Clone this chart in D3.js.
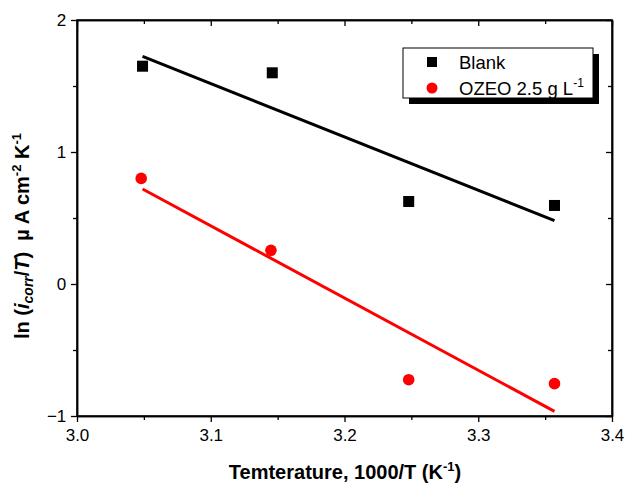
<!DOCTYPE html>
<html><head><meta charset="utf-8">
<script src="https://cdn.jsdelivr.net/npm/d3@7"></script>
<style>body{margin:0;background:#fff}text{font-family:Arial,"Liberation Sans",sans-serif}</style>
</head><body><svg id="c" width="628" height="484"></svg>
<script>
const blankX = [3.049, 3.146, 3.248, 3.357];
const blankY = [1.65, 1.60, 0.625, 0.595];
const ozeoX = [3.048, 3.145, 3.248, 3.357];
const ozeoY = [0.80, 0.255, -0.725, -0.755];
const blankFitX = [3.049, 3.357];
const blankFitY = [1.725, 0.48];
const ozeoFitX = [3.049, 3.357];
const ozeoFitY = [0.72, -0.965];
const xTicks = [3.0, 3.1, 3.2, 3.3, 3.4];
const yTicks = [-1, 0, 1, 2];
const legendLabels = ["Blank", "OZEO 2.5 g L"];

const svg = d3.select("#c");
const L = 77, R = 612, T = 20, B = 416;
const x = d3.scaleLinear().domain([3.0, 3.4]).range([L, R]);
const y = d3.scaleLinear().domain([-1, 2]).range([B, T]);

const g = svg.append("g");
const minorX = d3.range(3.05, 3.4, 0.1);
const minorY = [-0.5, 0.5, 1.5];
// bottom axis
const bx = g.append("g").attr("transform", `translate(0,${B})`)
  .call(d3.axisBottom(x).tickValues(xTicks).tickFormat(d3.format(".1f")).tickSize(6).tickSizeOuter(0));
bx.selectAll("text").attr("font-size", 17).attr("dy", "0.95em").attr("fill", "#000");
g.append("g").attr("transform", `translate(0,${B})`)
  .call(d3.axisBottom(x).tickValues(minorX).tickFormat("").tickSize(4).tickSizeOuter(0));
// top axis
g.append("g").attr("transform", `translate(0,${T})`)
  .call(d3.axisBottom(x).tickValues(xTicks).tickFormat("").tickSize(6).tickSizeOuter(0));
g.append("g").attr("transform", `translate(0,${T})`)
  .call(d3.axisBottom(x).tickValues(minorX).tickFormat("").tickSize(4).tickSizeOuter(0));
// left axis
const ly = g.append("g").attr("transform", `translate(${L},0)`)
  .call(d3.axisLeft(y).tickValues(yTicks).tickFormat(d3.format("d")).tickSize(6).tickSizeOuter(0));
ly.selectAll("text").attr("font-size", 17).attr("fill", "#000").attr("dx", "-0.1em");
g.append("g").attr("transform", `translate(${L},0)`)
  .call(d3.axisLeft(y).tickValues(minorY).tickFormat("").tickSize(4).tickSizeOuter(0));
// right axis
g.append("g").attr("transform", `translate(${R},0)`)
  .call(d3.axisLeft(y).tickValues(yTicks).tickFormat("").tickSize(6).tickSizeOuter(0));
g.append("g").attr("transform", `translate(${R},0)`)
  .call(d3.axisLeft(y).tickValues(minorY).tickFormat("").tickSize(4).tickSizeOuter(0));
g.selectAll(".domain").attr("stroke", "#000").attr("stroke-width", 1.5);
g.selectAll(".tick line").attr("stroke", "#000").attr("stroke-width", 1.3);
svg.append("rect").attr("x", L).attr("y", T).attr("width", R - L).attr("height", B - T)
  .attr("fill", "none").attr("stroke", "#000").attr("stroke-width", 1.5);

// fits
const line = d3.line().x(d => x(d[0])).y(d => y(d[1]));
svg.append("path").datum(d3.zip(blankFitX, blankFitY)).attr("d", line)
  .attr("stroke", "#000").attr("stroke-width", 3).attr("fill", "none");
svg.append("path").datum(d3.zip(ozeoFitX, ozeoFitY)).attr("d", line)
  .attr("stroke", "#ff0000").attr("stroke-width", 3).attr("fill", "none");

// points
const sq = 11;
svg.selectAll(".sq").data(d3.zip(blankX, blankY)).enter().append("rect")
  .attr("x", d => x(d[0]) - sq / 2).attr("y", d => y(d[1]) - sq / 2)
  .attr("width", sq).attr("height", sq).attr("fill", "#000");
svg.selectAll(".ci").data(d3.zip(ozeoX, ozeoY)).enter().append("circle")
  .attr("cx", d => x(d[0])).attr("cy", d => y(d[1])).attr("r", 5.8).attr("fill", "#ff0000");

// legend
const lg = svg.append("g");
lg.append("rect").attr("x", 409).attr("y", 54).attr("width", 190).attr("height", 50).attr("fill", "#000");
lg.append("rect").attr("x", 403).attr("y", 48).attr("width", 190).attr("height", 50)
  .attr("fill", "#fff").attr("stroke", "#000").attr("stroke-width", 1);
lg.append("rect").attr("x", 427).attr("y", 57).attr("width", 10).attr("height", 10).attr("fill", "#000");
lg.append("circle").attr("cx", 432).attr("cy", 88).attr("r", 5.5).attr("fill", "#ff0000");
lg.append("text").attr("x", 459).attr("y", 69).attr("font-size", 18.5).text(legendLabels[0]);
const t2 = lg.append("text").attr("x", 459).attr("y", 95).attr("font-size", 18.5);
t2.append("tspan").text(legendLabels[1]);
t2.append("tspan").attr("font-size", 12).attr("dy", -8).text("-1");

// x label
const xl = svg.append("text").attr("x", 345).attr("y", 479).attr("text-anchor", "middle")
  .attr("font-size", 20).attr("font-weight", "bold");
xl.append("tspan").text("Temterature, 1000/T (K");
xl.append("tspan").attr("font-size", 13).attr("dy", -8).text("-1");
xl.append("tspan").attr("dy", 8).text(")");

// y label
const yl = svg.append("text").attr("transform", "translate(29,236) rotate(-90)")
  .attr("text-anchor", "middle").attr("font-size", 20).attr("font-weight", "bold")
  .attr("xml:space", "preserve").style("white-space", "pre");
yl.append("tspan").text("ln (");
yl.append("tspan").attr("font-style", "italic").text("i");
yl.append("tspan").attr("font-style", "italic").attr("font-size", 14).attr("dy", 4).text("corr");
yl.append("tspan").attr("dy", -4).text("/");
yl.append("tspan").attr("font-style", "italic").text("T");
yl.append("tspan").text(")  µ A cm");
yl.append("tspan").attr("font-size", 13).attr("dy", -8).text("-2");
yl.append("tspan").attr("dy", 8).text(" K");
yl.append("tspan").attr("font-size", 13).attr("dy", -8).text("-1");
</script></body></html>
